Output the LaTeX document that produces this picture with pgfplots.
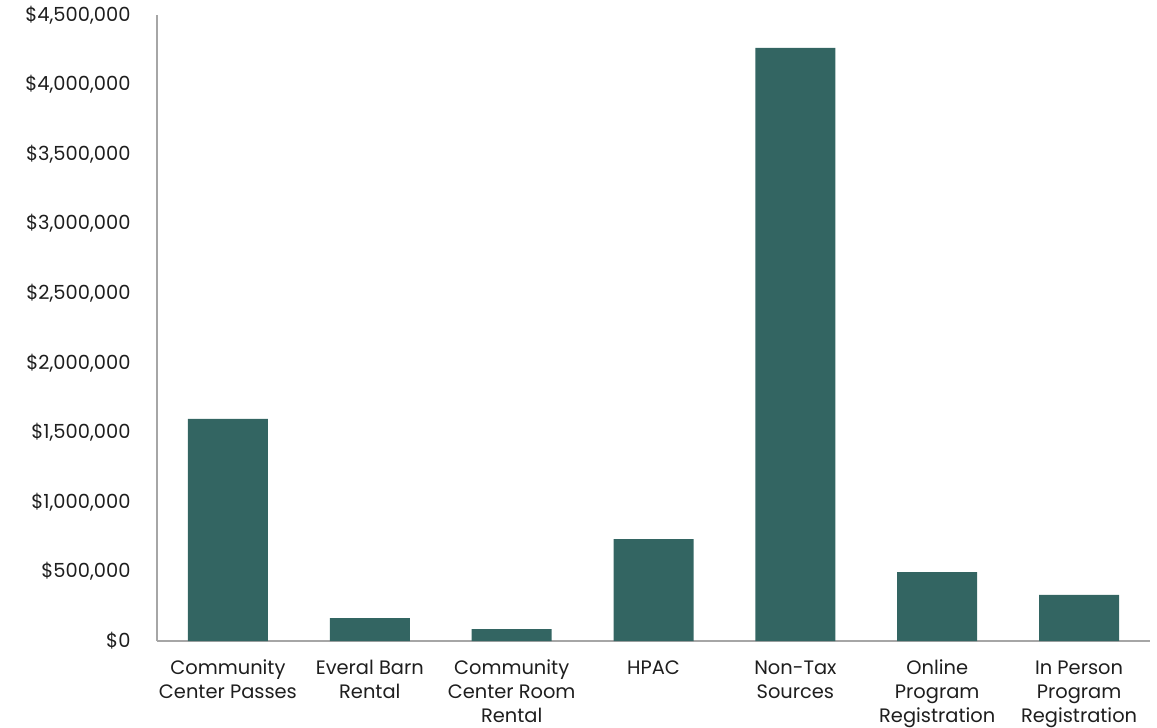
\documentclass[border=0pt]{standalone}
\usepackage{fontspec}
\setmainfont{Poppins}
\usepackage{pgfplots}
\pgfplotsset{compat=1.18}
\usetikzlibrary{calc}
\definecolor{barteal}{HTML}{336562}
\definecolor{axgray}{HTML}{A6A6A6}
\definecolor{txt}{HTML}{1E1E1E}
\begin{document}
\begin{tikzpicture}
\begin{axis}[
  name=ax,
  scale only axis,
  width=993bp, height=626bp,
  xmin=-0.5, xmax=6.5,
  ymin=0, ymax=4500000,
  axis x line*=bottom, axis y line*=left,
  axis line style={axgray, line width=1.5bp},
  x axis line style={-}, y axis line style={-},
  ytick={0,500000,1000000,1500000,2000000,2500000,3000000,3500000,4000000,4500000},
  yticklabels={\$0,\$500{,}000,\$1{,}000{,}000,\$1{,}500{,}000,\$2{,}000{,}000,\$2{,}500{,}000,\$3{,}000{,}000,\$3{,}500{,}000,\$4{,}000{,}000,\$4{,}500{,}000},
  scaled y ticks=false,
  xtick={0,1,2,3,4,5,6},
  xticklabels={{\strut Community\\Center Passes},{\strut Everal Barn\\Rental},{\strut Community\\Center Room\\Rental},{\strut HPAC},{\strut Non-Tax\\Sources},{\strut Online\\Program\\Registration},{\strut In Person\\Program\\Registration}},
  major tick length=0pt,
  tick style={draw=none},
  yticklabel style={font=\fontsize{19.5}{23}\selectfont, text=txt, xshift=-23bp},
  xticklabel style={font=\fontsize{19.5}{24}\selectfont, text=txt, align=center, inner ysep=0pt, yshift=-17bp, anchor=north},
  ybar, bar width=80bp,
  enlarge x limits=false,
  clip=false,
]
\addplot[fill=barteal, draw=none] coordinates {
(0,1596000) (1,165000) (2,86000) (3,733000) (4,4263000) (5,496000) (6,331000)};
\end{axis}
\useasboundingbox ($(ax.south west)+(-157bp,-87bp)$) rectangle ($(ax.north east)+(7bp,15bp)$);
\end{tikzpicture}
\end{document}
